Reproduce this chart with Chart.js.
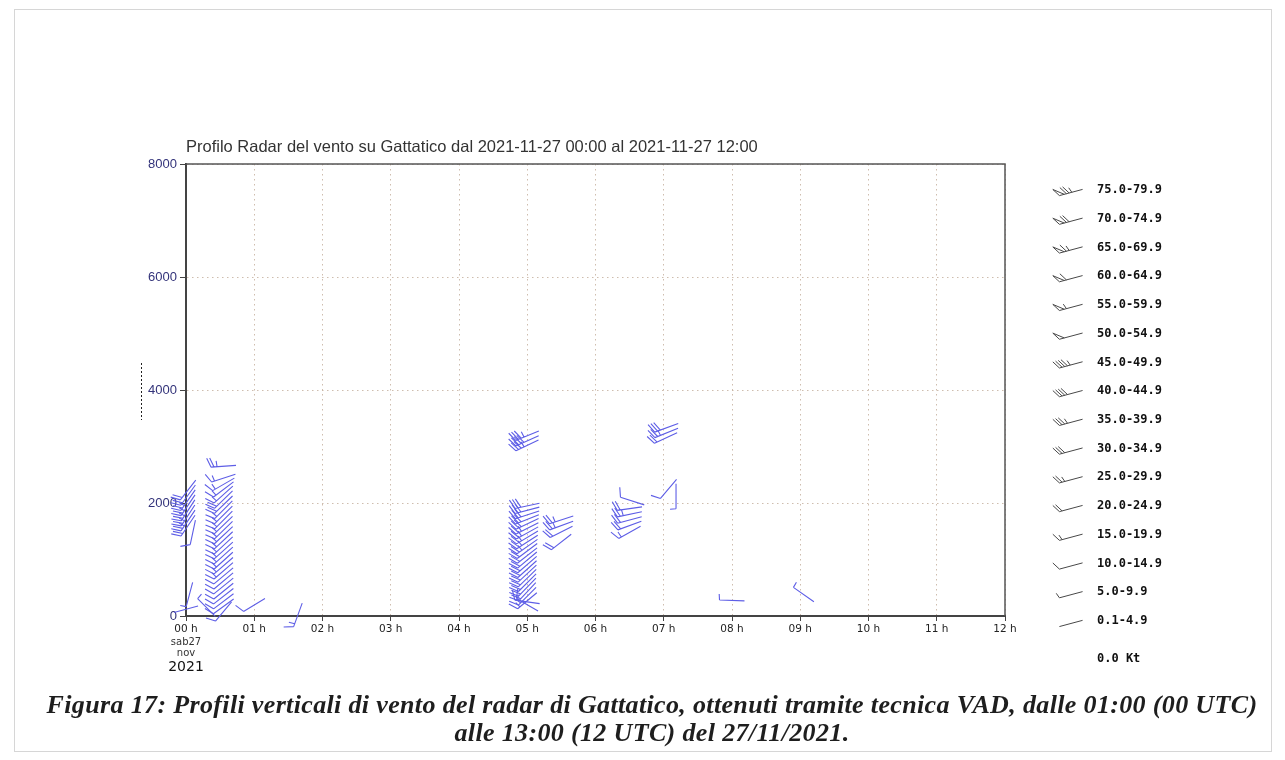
<!DOCTYPE html>
<html lang="it">
<head>
<meta charset="utf-8">
<title>Profilo Radar del vento su Gattatico</title>
<script src="https://cdn.jsdelivr.net/npm/chart.js@4.4.0/dist/chart.umd.min.js"></script>
<style>
  html, body { margin: 0; padding: 0; background: #fff; overflow: hidden; }
  #frame { position: absolute; left: 14px; top: 9px; width: 1258px; height: 743px; border: 1px solid #d6d6d6; box-sizing: border-box; }
  #wrap { position: absolute; left: 0; top: 0; width: 1285px; height: 760px; }
  #caption { position: absolute; left: 0; top: 691px; width: 1304px; text-align: center;
             font-family: "Liberation Serif", "Times New Roman", serif; font-weight: bold; font-style: italic;
             font-size: 26px; letter-spacing: 0.35px; line-height: 28px; color: #1e1e1e; white-space: nowrap; }
</style>
</head>
<body>
<div id="frame"></div>
<div id="wrap"><canvas id="c" width="1285" height="760"></canvas></div>
<div id="caption">Figura 17: Profili verticali di vento del radar di Gattatico, ottenuti tramite tecnica VAD, dalle 01:00 (00 UTC)<br>alle 13:00 (12 UTC) del 27/11/2021.</div>
<script>
// Axis ticks and labels
const chartTitle = 'Profilo Radar del vento su Gattatico dal 2021-11-27 00:00 al 2021-11-27 12:00';
const hourTicks = [0, 1, 2, 3, 4, 5, 6, 7, 8, 9, 10, 11, 12];
const hourLabels = ['00 h', '01 h', '02 h', '03 h', '04 h', '05 h', '06 h', '07 h', '08 h', '09 h', '10 h', '11 h', '12 h'];
const dateLabels = ['sab27', 'nov'];
const yearLabel = '2021';
const heightTicks = [0, 2000, 4000, 6000, 8000];

// Speed classes of the barb legend (knots) and a representative speed for each
const legendClasses = ['75.0-79.9', '70.0-74.9', '65.0-69.9', '60.0-64.9', '55.0-59.9', '50.0-54.9', '45.0-49.9',
                       '40.0-44.9', '35.0-39.9', '30.0-34.9', '25.0-29.9', '20.0-24.9', '15.0-19.9', '10.0-14.9',
                       '5.0-9.9', '0.1-4.9'];
const legendSpeeds = [77, 72, 67, 62, 57, 52, 47, 42, 37, 32, 27, 22, 17, 12, 7, 2];
const calmLabel = '0.0 Kt';

// VAD wind observations: time (h UTC), height (m), direction (deg, from), speed (kt)
const obsTime = [
  0.00, 0.05, 0.30, 0.10, 0.03, 0.03, 0.03, 0.03, 0.03, 0.03, 0.03, 0.03,
  0.55, 0.55, 0.55, 0.55, 0.55, 0.55, 0.55, 0.55, 0.55, 0.55, 0.55, 0.55, 0.55, 0.55, 0.55,
  0.55, 0.55, 0.55, 0.55, 0.55, 0.55, 0.55, 0.55, 0.55, 0.55, 0.55, 0.55, 0.55,
  1.00, 1.64,
  5.00, 5.00, 5.00,
  5.00, 5.00, 5.00, 5.00, 5.00, 5.00, 5.00, 5.00, 5.00, 5.00, 5.00, 5.00,
  5.00, 5.00, 5.00, 5.00, 5.00, 5.00, 5.00, 5.00, 5.00, 5.00, 5.00, 5.00,
  5.50, 5.50, 5.50, 5.50,
  6.54, 6.50, 6.50, 6.50, 6.50, 6.50,
  7.04, 7.04, 7.03, 7.07, 7.18,
  8.00, 9.05
];
const obsHeight = [
  120, 380, 150, 1480, 1600, 1690, 1780, 1870, 1960, 2050, 2140, 2230,
  2650, 2440, 2330, 2240, 2150, 2060, 1970, 1880, 1790, 1700, 1610, 1520, 1430, 1340, 1250,
  1160, 1070, 980, 890, 800, 710, 620, 530, 440, 350, 260, 170, 80,
  195, 20,
  3020, 3100, 3190,
  1950, 1870, 1790, 1710, 1630, 1550, 1470, 1390, 1310, 1230, 1150, 1070,
  990, 910, 830, 750, 670, 590, 510, 430, 350, 270, 250, 200,
  1700, 1600, 1490, 1310,
  2035, 1900, 1800, 1700, 1600, 1480,
  3330, 3240, 3150, 2250, 2120,
  275, 380
];
const obsDir = [
  255, 195, 315, 192, 214, 214, 213, 213, 214, 215, 216, 218,
  266, 252, 240, 233, 228, 226, 226, 225, 225, 225, 226, 226, 227, 227, 227,
  228, 228, 228, 229, 229, 230, 230, 231, 231, 232, 233, 234, 220,
  239, 200,
  244, 246, 248,
  258, 255, 252, 248, 245, 243, 241, 239, 237, 235, 233, 232,
  230, 229, 228, 227, 226, 225, 224, 223, 225, 230, 278, 300,
  252, 250, 243, 232,
  288, 262, 258, 255, 250, 241,
  250, 248, 245, 220, 180,
  272, 305
];
const obsSpeed = [
  3, 8, 6, 12, 22, 25, 27, 28, 27, 25, 22, 20,
  27, 15, 17, 18, 18, 20, 20, 19, 19, 18, 18, 17, 17, 17, 16,
  16, 16, 15, 15, 15, 14, 14, 13, 13, 12, 12, 11, 10,
  10, 15,
  37, 42, 38,
  32, 33, 34, 32, 30, 28, 27, 26, 25, 25, 24, 24,
  23, 23, 22, 22, 21, 21, 20, 20, 18, 17, 18, 12,
  27, 25, 22, 20,
  10, 22, 25, 22, 20, 15,
  30, 25, 20, 10, 7,
  7, 7
];

// Barb drawing styles
const plotBarb = { len: 25, feather: 10, half: 6, angle: 68, halfAngle: 85, gap: 3, width: 1.1, color: '#5e5ee6' };
const legendBarb = { len: 24, feather: 9, half: 5.5, angle: 58, halfAngle: 70, gap: 2.8, width: 1, color: '#484848' };
const legendDir = 255;

// Wind barb: staff centred on the point, pointing to where the wind comes from,
// feathers at the upwind end on the left side of the flow.
function drawBarb(ctx, cx, cy, dir, speed, st) {
  const r = dir * Math.PI / 180;
  const ux = Math.sin(r), uy = -Math.cos(r);
  const fr = (dir + st.angle) * Math.PI / 180;
  const fx = Math.sin(fr), fy = -Math.cos(fr);
  const hr = (dir + st.halfAngle) * Math.PI / 180;
  const hx = Math.sin(hr), hy = -Math.cos(hr);
  const tx = cx + ux * st.len / 2, ty = cy + uy * st.len / 2;
  const bx = cx - ux * st.len / 2, by = cy - uy * st.len / 2;
  ctx.lineWidth = st.width;
  ctx.beginPath();
  ctx.moveTo(bx, by);
  ctx.lineTo(tx, ty);
  let s = Math.floor(speed / 5) * 5;
  let pos = 0;
  const at = p => [tx - ux * p, ty - uy * p];
  while (s >= 50) {
    const [x0, y0] = at(pos);
    const [x2, y2] = at(pos + st.gap * 1.8);
    ctx.moveTo(x0, y0);
    ctx.lineTo(x0 + fx * st.feather, y0 + fy * st.feather);
    ctx.lineTo(x2, y2);
    pos += st.gap * 2.6;
    s -= 50;
  }
  while (s >= 10) {
    const [x0, y0] = at(pos);
    ctx.moveTo(x0, y0);
    ctx.lineTo(x0 + fx * st.feather, y0 + fy * st.feather);
    pos += st.gap;
    s -= 10;
  }
  if (s >= 5) {
    const [x0, y0] = at(pos);
    ctx.moveTo(x0, y0);
    ctx.lineTo(x0 + hx * st.half, y0 + hy * st.half);
  }
  ctx.stroke();
}

const barbPlugin = {
  id: 'windBarbs',
  afterDatasetsDraw(chart) {
    const { ctx, chartArea: a, scales: { x } } = chart;
    ctx.save();

    // Top and right edges of the plot frame
    ctx.strokeStyle = '#555';
    ctx.lineWidth = 1.5;
    ctx.beginPath();
    ctx.moveTo(a.left, a.top);
    ctx.lineTo(a.right, a.top);
    ctx.lineTo(a.right, a.bottom);
    ctx.stroke();

    // Barbs at each observation
    ctx.strokeStyle = plotBarb.color;
    const meta = chart.getDatasetMeta(0);
    meta.data.forEach((pt, i) => {
      drawBarb(ctx, pt.x, pt.y, obsDir[i], obsSpeed[i], plotBarb);
    });

    // Title
    ctx.fillStyle = '#333';
    ctx.font = '16.5px "Liberation Sans", Arial, sans-serif';
    ctx.textAlign = 'left';
    ctx.textBaseline = 'middle';
    ctx.fillText(chartTitle, a.left, a.top - 17);

    // Date under the first hour
    const x0 = x.getPixelForValue(hourTicks[0]);
    ctx.textAlign = 'center';
    ctx.fillStyle = '#333';
    ctx.font = '10px "DejaVu Sans", sans-serif';
    ctx.fillText(dateLabels[0], x0, a.bottom + 26);
    ctx.fillText(dateLabels[1], x0, a.bottom + 37);
    ctx.fillStyle = '#111';
    ctx.font = '14px "DejaVu Sans", sans-serif';
    ctx.fillText(yearLabel, x0, a.bottom + 51);

    // Dotted marker beside the height axis
    ctx.strokeStyle = '#222';
    ctx.lineWidth = 1;
    ctx.setLineDash([2, 2]);
    const mid = (a.top + a.bottom) / 2;
    ctx.beginPath();
    ctx.moveTo(a.left - 44.5, mid - 27);
    ctx.lineTo(a.left - 44.5, mid + 30);
    ctx.stroke();
    ctx.setLineDash([]);

    // Speed legend
    const lx = a.right + 92;
    const rowStep = 28.73;
    legendClasses.forEach((label, i) => {
      const ry = a.top + 26 + i * rowStep;
      ctx.strokeStyle = legendBarb.color;
      drawBarb(ctx, lx - 26, ry + 2.5, legendDir, legendSpeeds[i], legendBarb);
      ctx.fillStyle = '#111';
      ctx.font = 'bold 12px "DejaVu Sans Mono", monospace';
      ctx.textAlign = 'left';
      ctx.textBaseline = 'middle';
      ctx.fillText(label, lx, ry);
    });
    ctx.fillStyle = '#111';
    ctx.fillText(calmLabel, lx, a.top + 26 + (legendClasses.length - 1) * rowStep + 38);

    ctx.restore();
  }
};

const gridColor = 'rgba(198,178,160,0.85)';

new Chart(document.getElementById('c'), {
  type: 'scatter',
  data: {
    datasets: [{
      data: obsTime.map((t, i) => ({ x: t, y: obsHeight[i] })),
      pointRadius: 0,
      pointHoverRadius: 0,
      showLine: false
    }]
  },
  options: {
    responsive: false,
    animation: false,
    events: [],
    layout: { padding: { left: 126, top: 164, right: 280, bottom: 104 } },
    plugins: { legend: { display: false }, tooltip: { enabled: false }, title: { display: false } },
    scales: {
      x: {
        type: 'linear',
        min: hourTicks[0],
        max: hourTicks[hourTicks.length - 1],
        afterBuildTicks: s => { s.ticks = hourTicks.map(v => ({ value: v })); },
        afterFit: s => { s.height = 40; },
        ticks: {
          autoSkip: false, maxRotation: 0, padding: 2, color: '#222',
          font: { family: 'DejaVu Sans', size: 10.5 },
          callback: v => hourLabels[hourTicks.indexOf(v)]
        },
        grid: { color: gridColor, lineWidth: 1, tickLength: 5, tickColor: '#444', tickWidth: 1 },
        border: { display: true, color: '#444', width: 2, dash: [1.5, 3.5] }
      },
      y: {
        type: 'linear',
        min: heightTicks[0],
        max: heightTicks[heightTicks.length - 1],
        afterBuildTicks: s => { s.ticks = heightTicks.map(v => ({ value: v })); },
        afterFit: s => { s.width = 60; },
        ticks: {
          padding: 3, color: '#33337a',
          font: { family: 'Liberation Sans', size: 13 },
          callback: v => String(v)
        },
        grid: { color: gridColor, lineWidth: 1, tickLength: 6, tickColor: '#444', tickWidth: 1 },
        border: { display: true, color: '#444', width: 2, dash: [1.5, 3.5] }
      }
    }
  },
  plugins: [barbPlugin]
});
</script>
</body>
</html>
